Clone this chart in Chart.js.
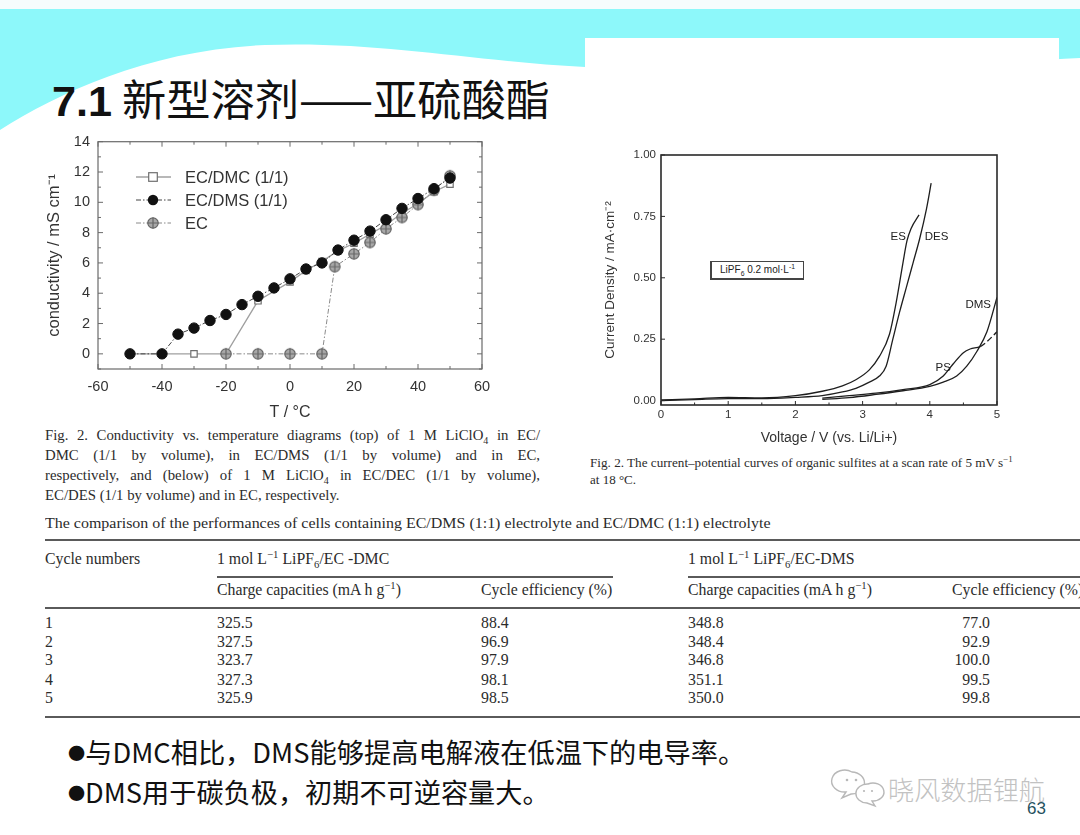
<!DOCTYPE html>
<html><head><meta charset="utf-8">
<script src="https://cdn.jsdelivr.net/npm/chart.js@4.4.1/dist/chart.umd.min.js"></script>
<style>
html,body{margin:0;padding:0;background:#fff;}
body{width:1080px;height:835px;position:relative;overflow:hidden;font-family:"Liberation Sans",Arial,sans-serif;color:#222;}
.abs{position:absolute;white-space:nowrap;}
.serif{font-family:"Liberation Serif","Times New Roman",serif;color:#2b2b2b;}
.cap{font-size:14.8px;line-height:20px;width:495px;text-align:justify;text-align-last:justify;}
.tb{font-size:15.8px;line-height:18px;}
.rule{position:absolute;height:2px;background:#5a5a5a;}
sub,sup{font-size:68%;line-height:0;}
.cjk{font-family:"Noto Sans CJK SC","Noto Sans",sans-serif;}
.dot{font-size:17px;vertical-align:3px;}
</style></head><body>

<svg class="abs" style="left:0;top:0" width="1080" height="835">
  <rect x="0" y="0" width="1080" height="10" fill="#f6fcfd"/>
  <path d="M0,9 L1080,9 L1080,58 C940,66 760,73 585,67 C470,61 380,41 265,45 C150,50 60,92 0,130 Z" fill="#8df8fa"/>
  <rect x="585" y="38" width="474" height="112" fill="#ffffff"/>
  <g fill="#fff" stroke="#b8b8b8" stroke-width="1.4">
    <path d="M852,772 a13,11 0 1,0 -6,20 l-4,6 l9,-4 a13,11 0 0,0 1,-22 z"/>
    <path d="M868,784 a11,9 0 1,1 4,17 l3,5 l-8,-3 a11,9 0 0,1 1,-19 z"/>
  </g>
  <g fill="#b8b8b8"><circle cx="847" cy="780" r="1.3"/><circle cx="856" cy="780" r="1.3"/><circle cx="864" cy="791" r="1.1"/><circle cx="872" cy="791" r="1.1"/></g>
</svg>

<!-- Title -->
<div class="abs" data-fit="498" style="left:52px;top:68px;line-height:58px;">
  <span style="font-family:'Liberation Sans';font-weight:bold;font-size:42px;color:#111;">7.1</span><span class="cjk" style="font-size:43px;color:#111;"> 新型溶剂——亚硫酸酯</span>
</div>

<!-- Left chart -->
<div class="abs" style="left:40px;top:125px;width:460px;height:300px;"><canvas id="c1"></canvas></div>

<!-- Right chart -->
<div class="abs" style="left:590px;top:140px;width:420px;height:310px;"><canvas id="c2"></canvas></div>
<div class="abs" style="left:710px;top:261px;width:91px;height:16px;border:1px solid #444;border-left-width:2px;border-bottom-width:2px;font-size:10px;line-height:16px;color:#222;text-align:center;background:#fff;">LiPF<sub>6</sub> 0.2 mol·L<sup>-1</sup></div>

<!-- Left caption -->
<div class="abs serif cap" style="left:45px;top:425px;">Fig. 2. Conductivity vs. temperature diagrams (top) of 1 M LiClO<sub>4</sub> in EC/</div>
<div class="abs serif cap" style="left:45px;top:445px;">DMC (1/1 by volume), in EC/DMS (1/1 by volume) and in EC,</div>
<div class="abs serif cap" style="left:45px;top:465px;">respectively, and (below) of 1 M LiClO<sub>4</sub> in EC/DEC (1/1 by volume),</div>
<div class="abs serif cap" style="left:45px;top:485px;text-align:left;text-align-last:left;">EC/DES (1/1 by volume) and in EC, respectively.</div>

<!-- Right caption -->
<div class="abs serif" data-fit="423" style="left:590px;top:454px;font-size:13px;line-height:17px;">Fig. 2. The current–potential curves of organic sulfites at a scan rate of 5 mV s<sup>−1</sup></div>
<div class="abs serif" style="left:590px;top:471px;font-size:13px;line-height:17px;">at 18 °C.</div>

<!-- Table -->
<div class="abs serif" data-fit="725" style="left:45px;top:514px;font-size:15px;line-height:18px;">The comparison of the performances of cells containing EC/DMS (1:1) electrolyte and EC/DMC (1:1) electrolyte</div>
<div class="rule" style="left:45px;width:1035px;top:539px;"></div>
<div class="abs serif tb" style="left:45px;top:550px;">Cycle numbers</div>
<div class="abs serif tb" style="left:217px;top:550px;">1 mol L<sup>−1</sup> LiPF<sub>6</sub>/EC -DMC</div>
<div class="abs serif tb" style="left:688px;top:550px;">1 mol L<sup>−1</sup> LiPF<sub>6</sub>/EC-DMS</div>
<div class="rule" style="left:217px;width:396px;top:576px;"></div>
<div class="rule" style="left:688px;width:392px;top:576px;"></div>
<div class="abs serif tb" style="left:217px;top:581px;">Charge capacities (mA h g<sup>−1</sup>)</div>
<div class="abs serif tb" style="left:481px;top:581px;">Cycle efficiency (%)</div>
<div class="abs serif tb" style="left:688px;top:581px;">Charge capacities (mA h g<sup>−1</sup>)</div>
<div class="abs serif tb" style="left:952px;top:581px;">Cycle efficiency (%)</div>
<div class="rule" style="left:45px;width:1035px;top:607px;"></div>
<div id="rows"></div>
<div class="rule" style="left:45px;width:1035px;top:716px;"></div>

<!-- Bullets -->
<div class="abs cjk" data-fit="677" style="left:68px;top:735px;font-size:27px;line-height:34px;color:#111;"><span class="dot">●</span>与DMC相比，DMS能够提高电解液在低温下的电导率。</div>
<div class="abs cjk" data-fit="482" style="left:68px;top:775px;font-size:27px;line-height:34px;color:#111;"><span class="dot">●</span>DMS用于碳负极，初期不可逆容量大。</div>

<!-- Watermark & page number -->
<div class="abs cjk" data-fit="157" style="left:888px;top:773px;font-size:26px;line-height:32px;color:#c2c2c2;font-weight:300;">晓风数据锂航</div>
<div class="abs" style="left:1027px;top:799px;font-size:17px;line-height:20px;color:#1f5260;">63</div>

<script>
// ---------- Table data ----------
const CYCLES = ['1','2','3','4','5'];
const CAP_DMC = ['325.5','327.5','323.7','327.3','325.9'];
const EFF_DMC = ['88.4','96.9','97.9','98.1','98.5'];
const CAP_DMS = ['348.8','348.4','346.8','351.1','350.0'];
const EFF_DMS = ['77.0','92.9','100.0','99.5','99.8'];

// ---------- Left chart data (conductivity vs T) ----------
const LEFT_LABELS = ['EC/DMC (1/1)', 'EC/DMS (1/1)', 'EC'];
const T_DMC = [-50,-40,-30,-20,-10,0,5,10,15,20,25,30,35,40,45,50];
const K_DMC = [0,0,0,0,3.5,4.75,5.5,6.1,6.8,7.3,7.9,8.5,9.3,9.9,10.7,11.2];
const T_DMS = [-50,-40,-35,-30,-25,-20,-15,-10,-5,0,5,10,15,20,25,30,35,40,45,50];
const K_DMS = [0,0,1.3,1.7,2.2,2.6,3.25,3.8,4.35,4.95,5.6,6.0,6.85,7.5,8.1,8.85,9.6,10.25,10.9,11.6];
const T_EC  = [-20,-10,0,10,14,20,25,30,35,40,45,50];
const K_EC  = [0,0,0,0,5.75,6.6,7.35,8.25,9.0,9.85,10.8,11.75];
const T_TICKS = [-60,-40,-20,0,20,40,60];
const K_TICKS = [0,2,4,6,8,10,12,14];

// ---------- Right chart data (current density vs voltage) ----------
const RIGHT_LABELS = ['ES','DES','DMS','PS'];
const V_ES  = [0,0.5,1.0,1.5,2.0,2.4,2.7,2.9,3.1,3.25,3.4,3.5,3.6,3.66,3.72,3.84];
const J_ES  = [0.003,0.007,0.013,0.011,0.02,0.038,0.06,0.085,0.125,0.18,0.27,0.4,0.56,0.65,0.7,0.756];
const V_DES = [0,0.5,1.0,1.5,2.0,2.4,2.7,2.9,3.1,3.25,3.35,3.45,3.55,3.65,3.75,3.85,3.95,4.02];
const J_DES = [0.0,0.004,0.008,0.008,0.013,0.02,0.035,0.05,0.075,0.1,0.14,0.25,0.36,0.46,0.56,0.66,0.78,0.885];
const V_DMS = [2.4,2.8,3.2,3.6,4.0,4.2,4.4,4.55,4.7,4.85,5.0];
const J_DMS = [0.005,0.012,0.025,0.04,0.058,0.075,0.1,0.14,0.2,0.28,0.42];
const V_PS  = [2.4,2.8,3.2,3.6,4.0,4.2,4.35,4.5,4.6,4.75,4.85,5.0];
const J_PS  = [0.01,0.02,0.03,0.045,0.065,0.1,0.15,0.195,0.21,0.22,0.24,0.28];
const V_TICKS = [0,1,2,3,4,5];
const J_TICKS = [0,0.25,0.5,0.75,1.0];
// annotation anchors (data units) for curve names
const RIGHT_LABEL_AT = {ES:[3.53,0.668], DES:[4.1,0.668], DMS:[4.72,0.39], PS:[4.2,0.135]};

// ---------- build table rows ----------
(function(){
  const ROW_TOP = [614,633,651,671,689];
  const html = [];
  CYCLES.forEach((c,i)=>{
    const t = ROW_TOP[i];
    html.push(`<div class="abs serif tb" style="left:45px;top:${t}px">${c}</div>`);
    html.push(`<div class="abs serif tb" style="left:217px;top:${t}px">${CAP_DMC[i]}</div>`);
    html.push(`<div class="abs serif tb" style="left:481px;top:${t}px">${EFF_DMC[i]}</div>`);
    html.push(`<div class="abs serif tb" style="left:688px;top:${t}px">${CAP_DMS[i]}</div>`);
    html.push(`<div class="abs serif tb" style="left:930px;width:60px;text-align:right;top:${t}px">${EFF_DMS[i]}</div>`);
  });
  document.getElementById('rows').innerHTML = html.join('');
})();

// fit widths
document.querySelectorAll('[data-fit]').forEach(el=>{
  const w = +el.dataset.fit; const r = el.scrollWidth;
  el.style.transformOrigin = 'left center';
  el.style.transform = `scaleX(${w/r})`;
});

// ---------- helpers ----------
const pts = (xs,ys)=>xs.map((x,i)=>({x, y:ys[i]}));

function ecMarker(){
  const c=document.createElement('canvas'); c.width=14; c.height=14;
  const g=c.getContext('2d');
  g.fillStyle='#a9a9a9'; g.strokeStyle='#666'; g.lineWidth=1.2;
  g.beginPath(); g.arc(7,7,5.2,0,Math.PI*2); g.fill(); g.stroke();
  g.beginPath(); g.moveTo(7,1.6); g.lineTo(7,12.4); g.moveTo(1.6,7); g.lineTo(12.4,7); g.stroke();
  return c;
}
const EC_IMG = ecMarker();

function frameTicks(o){
  return {id:'frameTicks', afterDraw(chart){
    const {ctx, chartArea:a, scales:{x,y}} = chart;
    ctx.save();
    ctx.strokeStyle = o.color; ctx.lineWidth = o.lw;
    ctx.strokeRect(a.left, a.top, a.right-a.left, a.bottom-a.top);
    ctx.lineWidth = o.tlw;
    const L=(x1,y1,x2,y2)=>{ctx.beginPath();ctx.moveTo(x1,y1);ctx.lineTo(x2,y2);ctx.stroke();};
    const xs = x.ticks.map(t=>t.value), ys = y.ticks.map(t=>t.value);
    const xMin=[], yMin=[];
    for(let i=0;i<xs.length-1;i++) for(let k=1;k<o.xSub;k++) xMin.push(xs[i]+(xs[i+1]-xs[i])*k/o.xSub);
    for(let i=0;i<ys.length-1;i++) for(let k=1;k<o.ySub;k++) yMin.push(ys[i]+(ys[i+1]-ys[i])*k/o.ySub);
    if (o.ySub>1 && y.min < ys[0]) yMin.unshift(ys[0]-(ys[1]-ys[0])/o.ySub);
    xs.forEach(v=>{const p=x.getPixelForValue(v); L(p,a.bottom,p,a.bottom-o.major); if(o.topTicks) L(p,a.top,p,a.top+o.major);});
    xMin.forEach(v=>{const p=x.getPixelForValue(v); L(p,a.bottom,p,a.bottom-o.minor); if(o.topTicks) L(p,a.top,p,a.top+o.minor);});
    ys.forEach(v=>{const p=y.getPixelForValue(v); L(a.left,p,a.left+o.major,p); if(o.rightTicks) L(a.right,p,a.right-o.major,p);});
    yMin.forEach(v=>{const p=y.getPixelForValue(v); if(p>a.bottom) return; L(a.left,p,a.left+o.minor,p); if(o.rightTicks) L(a.right,p,a.right-o.minor,p);});
    ctx.restore();
  }};
}

Chart.defaults.font.family = "'Liberation Sans', Arial, sans-serif";
Chart.defaults.color = '#333';

// ---------- Left chart ----------
const leftLegend = {id:'leftLegend', afterDraw(chart){
  const ctx = chart.ctx; ctx.save();
  const ys=[52,75,98];
  [0,1,2].forEach((di,i)=>{
    const ds = chart.data.datasets.find(d=>d.label===LEFT_LABELS[di]);
    const y = ys[i];
    ctx.strokeStyle = ds.borderColor; ctx.lineWidth = ds.borderWidth; ctx.setLineDash(ds.borderDash||[]);
    ctx.beginPath(); ctx.moveTo(96,y); ctx.lineTo(131,y); ctx.stroke(); ctx.setLineDash([]);
    ctx.fillStyle = ds.pointBackgroundColor; ctx.strokeStyle = ds.pointBorderColor; ctx.lineWidth = ds.pointBorderWidth;
    if (ds.pointStyle==='rect'){ ctx.fillRect(113-4.3,y-4.3,8.6,8.6); ctx.strokeRect(113-4.3,y-4.3,8.6,8.6);}
    else if (ds.pointStyle==='circle'){ ctx.beginPath(); ctx.arc(113,y,ds.pointRadius,0,Math.PI*2); ctx.fill(); }
    else { ctx.drawImage(EC_IMG, 113-7, y-7); }
    ctx.fillStyle='#333'; ctx.font="16.5px 'Liberation Sans', Arial"; ctx.textBaseline='middle';
    ctx.fillText(ds.label, 145, y+1);
  });
  ctx.restore();
}};

new Chart(document.getElementById('c1'), {
  type:'scatter',
  data:{datasets:[
    {label:LEFT_LABELS[1], data:pts(T_DMS,K_DMS), showLine:true, borderColor:'#444', borderWidth:1, borderDash:[5,2,1.5,2],
     pointStyle:'circle', pointRadius:5.2, pointBackgroundColor:'#111', pointBorderColor:'#111', pointBorderWidth:1, order:0},
    {label:LEFT_LABELS[2], data:pts(T_EC,K_EC), showLine:true, borderColor:'#8a8a8a', borderWidth:1, borderDash:[5,2,1.5,2],
     pointStyle:EC_IMG, pointRadius:6, pointBackgroundColor:'#a9a9a9', pointBorderColor:'#666', pointBorderWidth:1.2, order:1},
    {label:LEFT_LABELS[0], data:pts(T_DMC,K_DMC), showLine:true, borderColor:'#a0a0a0', borderWidth:1.3,
     pointStyle:'rect', pointRadius:4.5, pointBackgroundColor:'#fff', pointBorderColor:'#6f6f6f', pointBorderWidth:1.2, order:2},
  ]},
  options:{
    responsive:true, maintainAspectRatio:false, animation:false,
    layout:{padding:{top:14,right:18,left:3,bottom:0}},
    plugins:{legend:{display:false}, tooltip:{enabled:false}},
    scales:{
      x:{type:'linear', min:-60, max:60,
         afterBuildTicks:s=>{s.ticks=T_TICKS.map(v=>({value:v}));},
         afterFit:s=>{s.height=56;},
         grid:{display:false, drawTicks:false}, border:{display:false},
         ticks:{font:{size:14.5}, color:'#333', padding:9, maxRotation:0},
         title:{display:true, text:'T / °C', font:{size:16}, color:'#333', padding:{top:2,bottom:3}}},
      y:{type:'linear', min:-1, max:14,
         afterBuildTicks:s=>{s.ticks=K_TICKS.map(v=>({value:v}));},
         afterFit:s=>{s.width=55;},
         grid:{display:false, drawTicks:false}, border:{display:false},
         ticks:{font:{size:14.5}, color:'#333', padding:8},
         title:{display:true, text:'conductivity / mS cm⁻¹', font:{size:16.5}, color:'#333', padding:{top:2,bottom:0}}}
    }
  },
  plugins:[frameTicks({color:'#6a6a6a', lw:1.2, tlw:1, major:5, minor:3, xSub:2, ySub:2, topTicks:true, rightTicks:true}), leftLegend]
});

// ---------- Right chart ----------
const rightLabels = {id:'rightLabels', afterDraw(chart){
  const {ctx, scales:{x,y}} = chart; ctx.save();
  ctx.fillStyle='#222'; ctx.font="11.5px 'Liberation Sans', Arial"; ctx.textAlign='center'; ctx.textBaseline='middle';
  RIGHT_LABELS.forEach(n=>{const [vx,vy]=RIGHT_LABEL_AT[n]; ctx.fillText(n, x.getPixelForValue(vx), y.getPixelForValue(vy));});
  ctx.restore();
}};
const lineDs = (label,xs,ys,extra)=>Object.assign({label, data:pts(xs,ys), showLine:true, borderColor:'#1e1e1e', borderWidth:1.3,
  pointRadius:0, cubicInterpolationMode:'monotone'}, extra||{});

new Chart(document.getElementById('c2'), {
  type:'scatter',
  data:{datasets:[
    lineDs(RIGHT_LABELS[0], V_ES, J_ES),
    lineDs(RIGHT_LABELS[1], V_DES, J_DES),
    lineDs(RIGHT_LABELS[2], V_DMS, J_DMS),
    lineDs(RIGHT_LABELS[3], V_PS, J_PS, {segment:{borderDash:ctx=>ctx.p0.parsed.x>=4.75?[6,3]:undefined}}),
  ]},
  options:{
    responsive:true, maintainAspectRatio:false, animation:false,
    layout:{padding:{top:15,right:13,left:12,bottom:3}},
    plugins:{legend:{display:false}, tooltip:{enabled:false}},
    scales:{
      x:{type:'linear', min:0, max:5,
         afterBuildTicks:s=>{s.ticks=V_TICKS.map(v=>({value:v}));},
         afterFit:s=>{s.height=42;},
         grid:{display:false, drawTicks:false}, border:{display:false},
         ticks:{font:{size:11.5}, color:'#333', padding:3, maxRotation:0},
         title:{display:true, text:'Voltage / V (vs. Li/Li+)', font:{size:14}, color:'#333', padding:{top:2,bottom:0}}},
      y:{type:'linear', min:-0.018, max:1.0,
         afterBuildTicks:s=>{s.ticks=J_TICKS.map(v=>({value:v}));},
         afterFit:s=>{s.width=59;},
         grid:{display:false, drawTicks:false}, border:{display:false},
         ticks:{font:{size:11.5}, color:'#333', padding:5, callback:v=>v.toFixed(2)},
         title:{display:true, text:'Current Density / mA·cm⁻²', font:{size:13.5}, color:'#333', padding:{top:0,bottom:2}}}
    }
  },
  plugins:[frameTicks({color:'#2a2a2a', lw:1.6, tlw:1, major:4, minor:2.5, xSub:2, ySub:1, topTicks:false, rightTicks:false}), rightLabels]
});
</script>
</body></html>
